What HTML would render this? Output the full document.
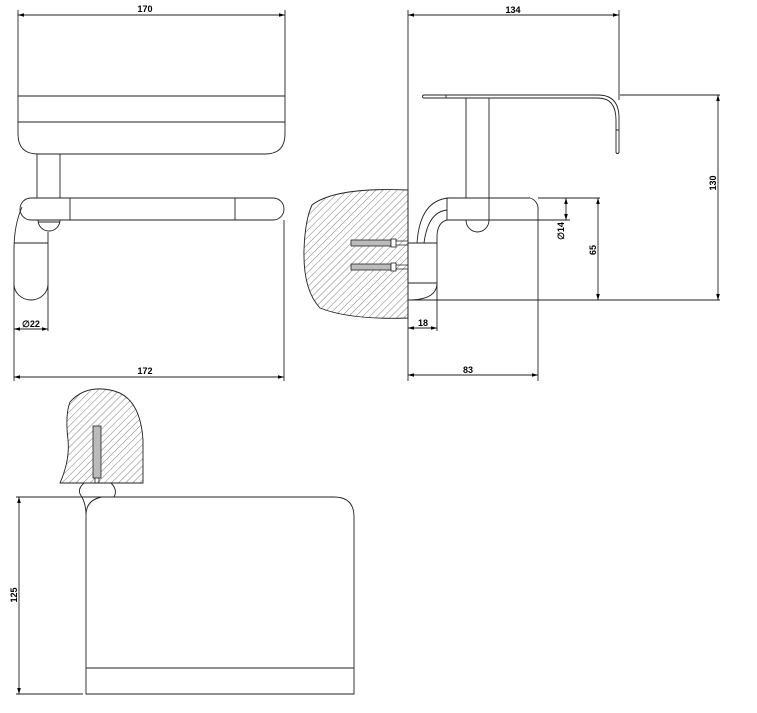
<!DOCTYPE html>
<html><head><meta charset="utf-8"><style>
html,body{margin:0;padding:0;background:#fff;}
svg{display:block;}
text{font-family:"Liberation Sans",sans-serif;font-weight:bold;font-size:9px;fill:#000;}
</style></head><body>
<svg width="757" height="713" viewBox="0 0 757 713" xmlns="http://www.w3.org/2000/svg">
<defs>
<pattern id="h" patternUnits="userSpaceOnUse" width="5" height="5" patternTransform="rotate(45)">
<line x1="0" y1="0" x2="0" y2="5" stroke="#444" stroke-width="0.7"/>
</pattern>
<marker id="a" viewBox="0 0 10 6" refX="10" refY="3" markerWidth="8" markerHeight="4" orient="auto-start-reverse"><path d="M0,0 L10,3 L0,6z" fill="#000"/></marker>
</defs>
<g fill="none" stroke="#222" stroke-width="0.9">
<!-- TOP VIEW -->
<line x1="18" y1="15" x2="285" y2="15" marker-start="url(#a)" marker-end="url(#a)"/>
<line x1="18" y1="10" x2="18" y2="96"/>
<line x1="285" y1="10" x2="285" y2="96"/>
<path d="M18,96 H285 M18,122 H285 M18,96 V134 Q18,154 38,154 H265 Q285,154 285,134 V96"/>
<path d="M37,154 V198 M60,154 V198"/>
<path d="M31,198 H273 A11,11 0 0 1 273,220 H31 A11,11 0 0 1 31,198 Z"/>
<path d="M70,198 V220 M235,198 V220"/>
<path d="M38,220 A11,11 0 0 0 60,220 M38,222 H60"/>
<path d="M22,207 Q14,225 14,250 V284 M48,232 V331"/>
<path d="M14,243 H48 M14,284 A17,16 0 0 0 48,284"/>
<line x1="14" y1="284" x2="14" y2="381"/>
<line x1="14" y1="329" x2="48" y2="329" marker-start="url(#a)" marker-end="url(#a)"/>
<line x1="284" y1="220" x2="284" y2="381"/>
<line x1="14" y1="377" x2="284" y2="377" marker-start="url(#a)" marker-end="url(#a)"/>
<!-- SIDE VIEW -->
<line x1="408" y1="15" x2="619" y2="15" marker-start="url(#a)" marker-end="url(#a)"/>
<line x1="408" y1="10" x2="408" y2="381"/>
<line x1="619" y1="10" x2="619" y2="100"/>
<path d="M424,95 H598 Q619,95 619,118 V152 A1.5,1.5 0 0 1 616,152 V120 Q616,98 598,98 H424 A1.5,1.5 0 0 1 424,95 Z"/>
<path d="M446,95 V98 M616,130 H619"/>
<path d="M466,98 V198 M489,98 V220"/>
<path d="M447,198 H530 A11,11 0 0 1 538,210 V220 H447 Z M447,198 V220"/>
<path d="M449,198 Q420,200 417,243 M447,210 Q428,212 424,243 M447,220 Q438,222 437,235 V300"/>
<path d="M466,220 A11.5,12 0 0 0 489,220"/>
<path d="M408,243 H437 M408,283 H437 M408,300 Q437,300 437,283"/>
<path d="M410,300 H720 M620,95 H720 M538,198 H600"/>
<path d="M312,205 Q335,187 408,190 V318 Q350,320 320,308 Q303,290 304,250 Q305,220 312,205 Z" fill="url(#h)"/>
<g stroke-width="0.8" fill="#bbb">
<rect x="351" y="240" width="40" height="6"/><rect x="391" y="239" width="5" height="8" fill="#fff"/><path d="M396,241 H408 M396,245 H408"/>
<rect x="351" y="264" width="40" height="6"/><rect x="391" y="263" width="5" height="8" fill="#fff"/><path d="M396,265 H408 M396,269 H408"/>
</g>
<line x1="538" y1="220" x2="538" y2="381"/>
<line x1="566" y1="198" x2="566" y2="220" marker-start="url(#a)" marker-end="url(#a)"/>
<line x1="538" y1="220" x2="570" y2="220"/>
<line x1="598" y1="198" x2="598" y2="300" marker-start="url(#a)" marker-end="url(#a)"/>
<line x1="718" y1="95" x2="718" y2="300" marker-start="url(#a)" marker-end="url(#a)"/>
<line x1="437" y1="300" x2="437" y2="331"/>
<line x1="408" y1="328" x2="437" y2="328" marker-start="url(#a)" marker-end="url(#a)"/>
<line x1="408" y1="375" x2="538" y2="375" marker-start="url(#a)" marker-end="url(#a)"/>
<!-- BOTTOM VIEW -->
<path d="M70,402 Q85,385 110,390 Q140,395 143,440 V483 H60 Q70,460 68,440 Q65,415 70,402 Z" fill="url(#h)"/>
<rect x="93" y="426" width="8" height="52" stroke-width="0.8" fill="#bbb"/>
<path d="M95,478 V483 M99,478 V483" stroke-width="0.8"/>
<path d="M84,483 Q76,490 82,497 Q86,505 86,515 M111,483 Q118,490 114,497"/>
<path d="M16,497 H334 Q354,497 354,517 V694 H86 V515 Q86,500 102,497"/>
<path d="M86,668 H354"/>
<path d="M16,694 H83"/>
<line x1="19" y1="497" x2="19" y2="694" marker-start="url(#a)" marker-end="url(#a)"/>
</g>
<text x="145" y="12" text-anchor="middle">170</text>
<text x="22" y="327" font-size="8">∅22</text>
<text x="145" y="374" text-anchor="middle">172</text>
<text x="513" y="13" text-anchor="middle">134</text>
<text x="423" y="326" text-anchor="middle">18</text>
<text x="468" y="373" text-anchor="middle">83</text>
<text transform="translate(564,231) rotate(-90)" text-anchor="middle" font-size="8">∅14</text>
<text transform="translate(596,250) rotate(-90)" text-anchor="middle">65</text>
<text transform="translate(716,183) rotate(-90)" text-anchor="middle">130</text>
<text transform="translate(17,595) rotate(-90)" text-anchor="middle">125</text>
</svg>
</body></html>
